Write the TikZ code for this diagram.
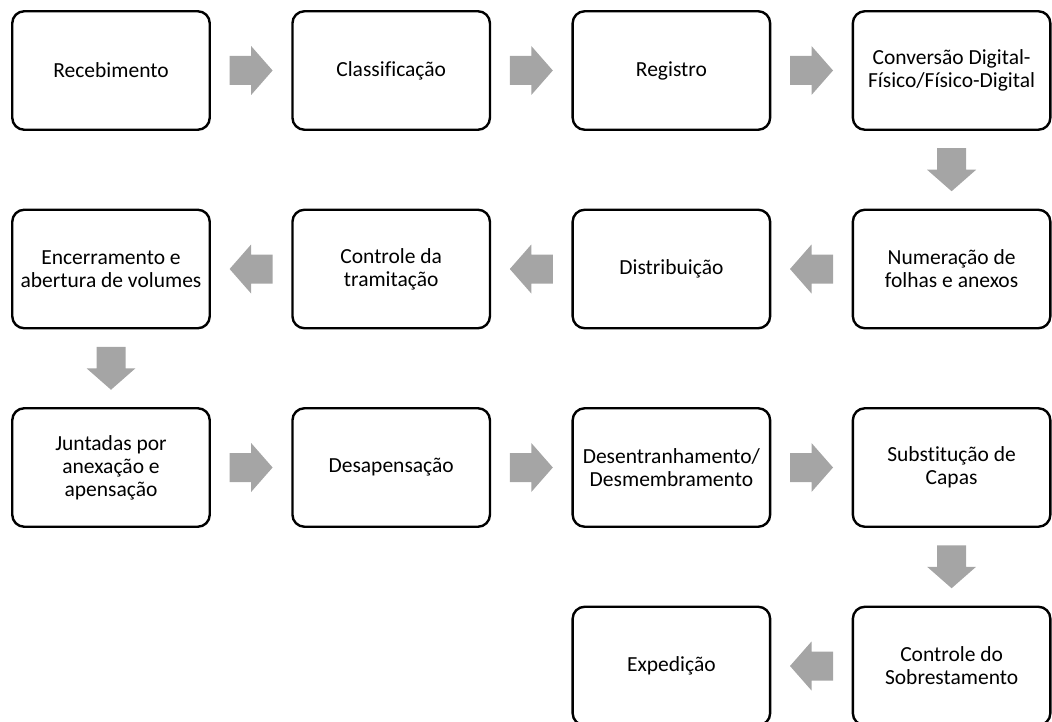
\documentclass[tikz,border=0pt]{standalone}
\usepackage{fontspec}
\setmainfont{Carlito}[Ligatures=NoCommon]
\usepackage{tikz}
\usetikzlibrary{calc,positioning}
\definecolor{arrowgray}{HTML}{A5A5A5}

\tikzset{
  etapa/.style={draw, line width=2.4pt, rounded corners=12pt, outer sep=0pt,
    minimum width=197.5pt, minimum height=118.5pt, align=center,
    font=\fontsize{21.5}{23}\selectfont},
  pics/seta/.style={code={
    \fill[arrowgray] (-21.5,-14.5) -- (0,-14.5) -- (0,-24.5) -- (21.5,0)
       -- (0,24.5) -- (0,14.5) -- (-21.5,14.5) -- cycle;}}
}

\begin{document}
\begin{tikzpicture}[x=1pt,y=1pt, node distance=80pt and 82.7pt]
  \useasboundingbox (0,0) rectangle (1052,-722);
       % linha 1
       \node[etapa] (rec) at (111,-70.5) {Recebimento};
       \node[etapa, right=of rec] (cla) {Classificação};
       \node[etapa, right=of cla] (reg) {Registro};
       \node[etapa, right=of reg] (conv) {Conversão Digital-\\Físico/Físico-Digital};
       % linha 2
       \node[etapa, below=of conv] (num) {Numeração de\\folhas e anexos};
       \node[etapa, left=of num] (dist) {Distribuição};
       \node[etapa, left=of dist] (tram) {Controle da\\tramitação};
       \node[etapa, left=of tram] (enc) {Encerramento e\\abertura de volumes};
       % linha 3
       \node[etapa, below=of enc] (junt) {Juntadas por\\anexação e\\apensação};
       \node[etapa, right=of junt] (desap) {Desapensação};
       \node[etapa, right=of desap] (desent) {Desentranhamento/\\Desmembramento};
       \node[etapa, right=of desent] (subst) {Substitução de\\Capas};
       % linha 4
       \node[etapa, below=of subst] (sobr) {Controle do\\Sobrestamento};
       \node[etapa, left=of sobr] (exp) {Expedição};
       % setas
       \pic at ($(rec)!0.5!(cla)$) {seta};
       \pic at ($(cla)!0.5!(reg)$) {seta};
       \pic at ($(reg)!0.5!(conv)$) {seta};
       \pic[rotate=-90] at ($(conv)!0.5!(num)$) {seta};
       \pic[rotate=180] at ($(num)!0.5!(dist)$) {seta};
       \pic[rotate=180] at ($(dist)!0.5!(tram)$) {seta};
       \pic[rotate=180] at ($(tram)!0.5!(enc)$) {seta};
       \pic[rotate=-90] at ($(enc)!0.5!(junt)$) {seta};
       \pic at ($(junt)!0.5!(desap)$) {seta};
       \pic at ($(desap)!0.5!(desent)$) {seta};
       \pic at ($(desent)!0.5!(subst)$) {seta};
       \pic[rotate=-90] at ($(subst)!0.5!(sobr)$) {seta};
       \pic[rotate=180] at ($(sobr)!0.5!(exp)$) {seta};
\end{tikzpicture}
\end{document}
